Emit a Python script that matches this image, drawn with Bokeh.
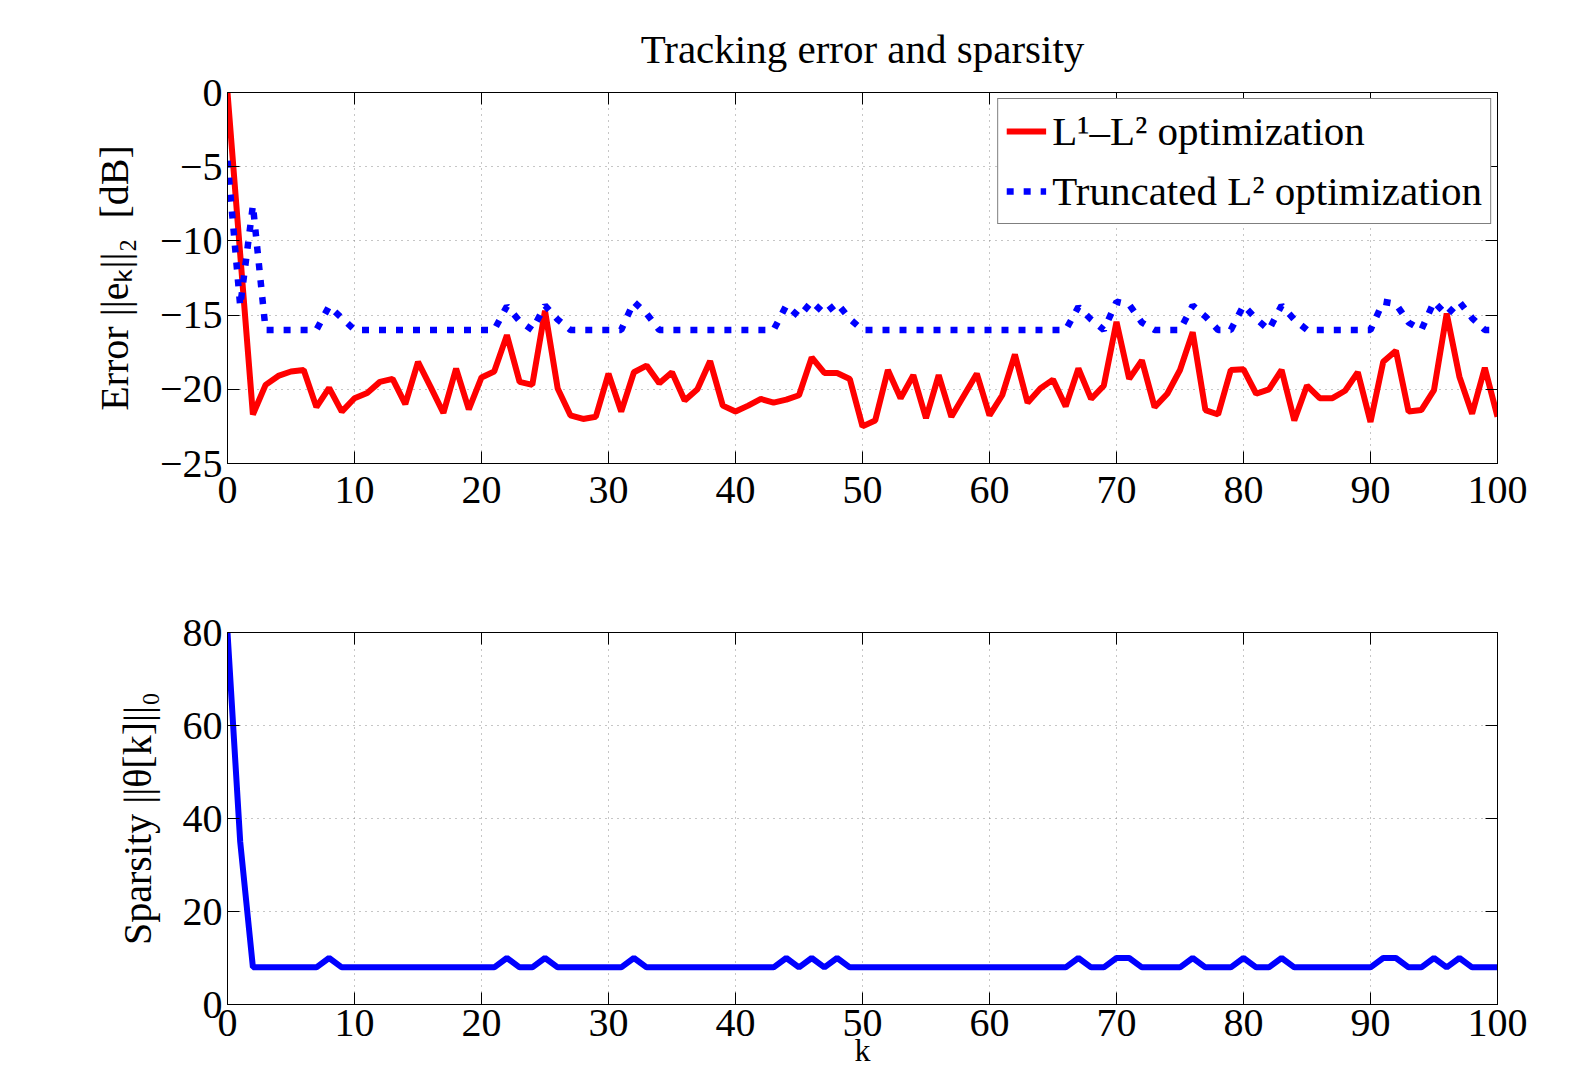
from bokeh.plotting import figure
from bokeh.layouts import column
from bokeh.models import (Range1d, FixedTicker, LinearAxis, Legend, LegendItem,
                          CustomLabelingPolicy)
from bokeh.embed import file_html
from bokeh.resources import INLINE

# ---------------- data ----------------
k = list(range(101))

err_l1l2 = [
    0.0, -10.9, -21.7, -19.7, -19.1, -18.8, -18.7, -21.2, -19.9, -21.5,
    -20.6, -20.25, -19.5, -19.3, -21.0, -18.15, -19.85, -21.6, -18.6, -21.35,
    -19.2, -18.8, -16.35, -19.5, -19.7, -14.7, -19.95, -21.75, -22.0, -21.85,
    -18.95, -21.5, -18.85, -18.4, -19.6, -18.85, -20.75, -20.0, -18.1, -21.1,
    -21.5, -21.1, -20.65, -20.9, -20.7, -20.4, -17.85, -18.9, -18.9, -19.3,
    -22.5, -22.1, -18.7, -20.6, -19.05, -21.95, -19.05, -21.85, -20.4, -18.95,
    -21.75, -20.4, -17.65, -20.9, -19.95, -19.35, -21.15, -18.6, -20.65, -19.75,
    -15.45, -19.3, -18.05, -21.2, -20.3, -18.7, -16.15, -21.4, -21.7, -18.7,
    -18.65, -20.3, -20.0, -18.7, -22.1, -19.75, -20.6, -20.6, -20.1, -18.85,
    -22.2, -18.15, -17.4, -21.5, -21.4, -20.05, -14.9, -19.15, -21.65, -18.55,
    -21.85,
]

err_trunc = [
    -4.6, -14.4, -7.6, -16.0, -16.0, -16.0, -16.0, -16.0, -14.4, -15.2,
    -16.0, -16.0, -16.0, -16.0, -16.0, -16.0, -16.0, -16.0, -16.0, -16.0,
    -16.0, -16.0, -14.4, -15.4, -16.0, -14.35, -15.3, -16.0, -16.0, -16.0,
    -16.0, -16.0, -14.1, -14.9, -16.0, -16.0, -16.0, -16.0, -16.0, -16.0,
    -16.0, -16.0, -16.0, -16.0, -14.35, -15.1, -14.1, -14.9, -14.2, -15.25,
    -16.0, -16.0, -16.0, -16.0, -16.0, -16.0, -16.0, -16.0, -16.0, -16.0,
    -16.0, -16.0, -16.0, -16.0, -16.0, -16.0, -16.0, -14.45, -15.3, -16.0,
    -14.1, -14.3, -15.5, -16.0, -16.0, -16.0, -14.35, -15.1, -16.0, -16.0,
    -14.35, -15.25, -16.0, -14.35, -15.3, -16.0, -16.0, -16.0, -16.0, -16.0,
    -16.0, -14.1, -14.25, -15.5, -16.0, -14.1, -15.0, -14.1, -15.2, -16.0,
    -16.0,
]

sparsity = [
    80, 35, 8, 8, 8, 8, 8, 8, 10, 8,
    8, 8, 8, 8, 8, 8, 8, 8, 8, 8,
    8, 8, 10, 8, 8, 10, 8, 8, 8, 8,
    8, 8, 10, 8, 8, 8, 8, 8, 8, 8,
    8, 8, 8, 8, 10, 8, 10, 8, 10, 8,
    8, 8, 8, 8, 8, 8, 8, 8, 8, 8,
    8, 8, 8, 8, 8, 8, 8, 10, 8, 8,
    10, 10, 8, 8, 8, 8, 10, 8, 8, 8,
    10, 8, 8, 10, 8, 8, 8, 8, 8, 8,
    8, 10, 10, 8, 8, 10, 8, 10, 8, 8,
    8,
]

x_ticks = [0, 10, 20, 30, 40, 50, 60, 70, 80, 90, 100]
err_ticks = [-25, -20, -15, -10, -5, 0]
err_tick_labels = {-25: "\u221225", -20: "\u221220", -15: "\u221215",
                   -10: "\u221210", -5: "\u22125", 0: "0"}
sp_ticks = [0, 20, 40, 60, 80]

title_text = "Tracking error and sparsity"
ylabel_top = "Error ||e\u2096||\u2082\u00a0\u00a0[dB]"
ylabel_bottom = "Sparsity ||\u03b8[k]||\u2080"
xlabel_bottom = "k"
legend_labels = ["L\u00b9\u2013L\u00b2 optimization", "Truncated L\u00b2 optimization"]

FONT = "Liberation Serif"
FS = "40px"


def style(p, yticks, ylabel, y_over=None):
    p.add_layout(LinearAxis(), "above")
    p.add_layout(LinearAxis(), "right")
    for ax in list(p.xaxis):
        ax.ticker = FixedTicker(ticks=x_ticks)
    for ax in list(p.yaxis):
        ax.ticker = FixedTicker(ticks=yticks)
        if y_over:
            ax.major_label_overrides = y_over
    for ax in list(p.xaxis) + list(p.yaxis):
        ax.axis_line_color = "black"
        ax.axis_line_width = 1
        ax.major_tick_in = 12
        ax.major_tick_out = 0
        ax.major_tick_line_color = "black"
        ax.minor_tick_line_color = None
        ax.major_label_text_font = FONT
        ax.major_label_text_font_size = FS
        ax.major_label_text_color = "black"
        ax.axis_label_text_font = FONT
        ax.axis_label_text_font_size = FS
        ax.axis_label_text_font_style = "normal"
        ax.axis_label_text_color = "black"
    # mirror axes (top / right): ticks only, no labels
    for ax in p.above + p.right:
        if isinstance(ax, LinearAxis):
            ax.major_label_policy = CustomLabelingPolicy(code="return []")
            ax.major_label_text_font_size = "1px"
            ax.major_label_standoff = 0
    p.below[0].major_label_standoff = 13
    p.left[0].major_label_standoff = 5
    p.left[0].axis_label = ylabel
    p.left[0].axis_label_standoff = 20
    p.xgrid.ticker = FixedTicker(ticks=x_ticks)
    p.ygrid.ticker = FixedTicker(ticks=yticks)
    for g in (p.xgrid, p.ygrid):
        g.grid_line_color = "#8c8c8c"
        g.grid_line_dash = "1 5"
        g.grid_line_width = 1
    p.outline_line_color = "black"
    p.outline_line_width = 1
    p.background_fill_color = "white"
    p.border_fill_color = "white"


# ---------------- top plot ----------------
p1 = figure(width=1577, height=548, x_range=Range1d(0, 100), y_range=Range1d(-25, 0),
            output_backend="svg", toolbar_location=None,
            min_border_left=227, min_border_right=80, min_border_top=92, min_border_bottom=85)
p1.title.text = title_text
p1.title.align = "center"
p1.title.text_font = FONT
p1.title.text_font_size = "41px"
p1.title.text_font_style = "normal"
p1.title.text_color = "black"
p1.title.standoff = 33
style(p1, err_ticks, ylabel_top, err_tick_labels)

r1 = p1.line(k, err_l1l2, line_color="#ff0000", line_width=6)
r2 = p1.line(k, err_trunc, line_color="#0000ff", line_width=6.5, line_dash="7 10")

legend = Legend(items=[LegendItem(label=legend_labels[0], renderers=[r1]),
                       LegendItem(label=legend_labels[1], renderers=[r2])],
                location="top_right")
legend.label_text_font = FONT
legend.label_text_font_size = "41px"
legend.label_text_color = "black"
legend.glyph_width = 40
legend.glyph_height = 48
legend.label_height = 48
legend.label_standoff = 6
legend.spacing = 12
legend.padding = 8
legend.margin = 6
legend.border_line_color = "black"
legend.border_line_width = 1
legend.background_fill_color = "white"
legend.background_fill_alpha = 1.0
p1.add_layout(legend)

# ---------------- bottom plot ----------------
p2 = figure(width=1577, height=527, x_range=Range1d(0, 100), y_range=Range1d(0, 80),
            output_backend="svg", toolbar_location=None,
            min_border_left=227, min_border_right=80, min_border_top=84, min_border_bottom=71)
style(p2, sp_ticks, ylabel_bottom)
p2.below[0].major_label_standoff = 5
p2.below[0].axis_label = xlabel_bottom
p2.below[0].axis_label_text_font_size = "32px"
p2.below[0].axis_label_standoff = -7

p2.line(k, sparsity, line_color="#0000ff", line_width=6)

layout = column(p1, p2, spacing=0)
open("out.html", "w").write(file_html(layout, INLINE))
